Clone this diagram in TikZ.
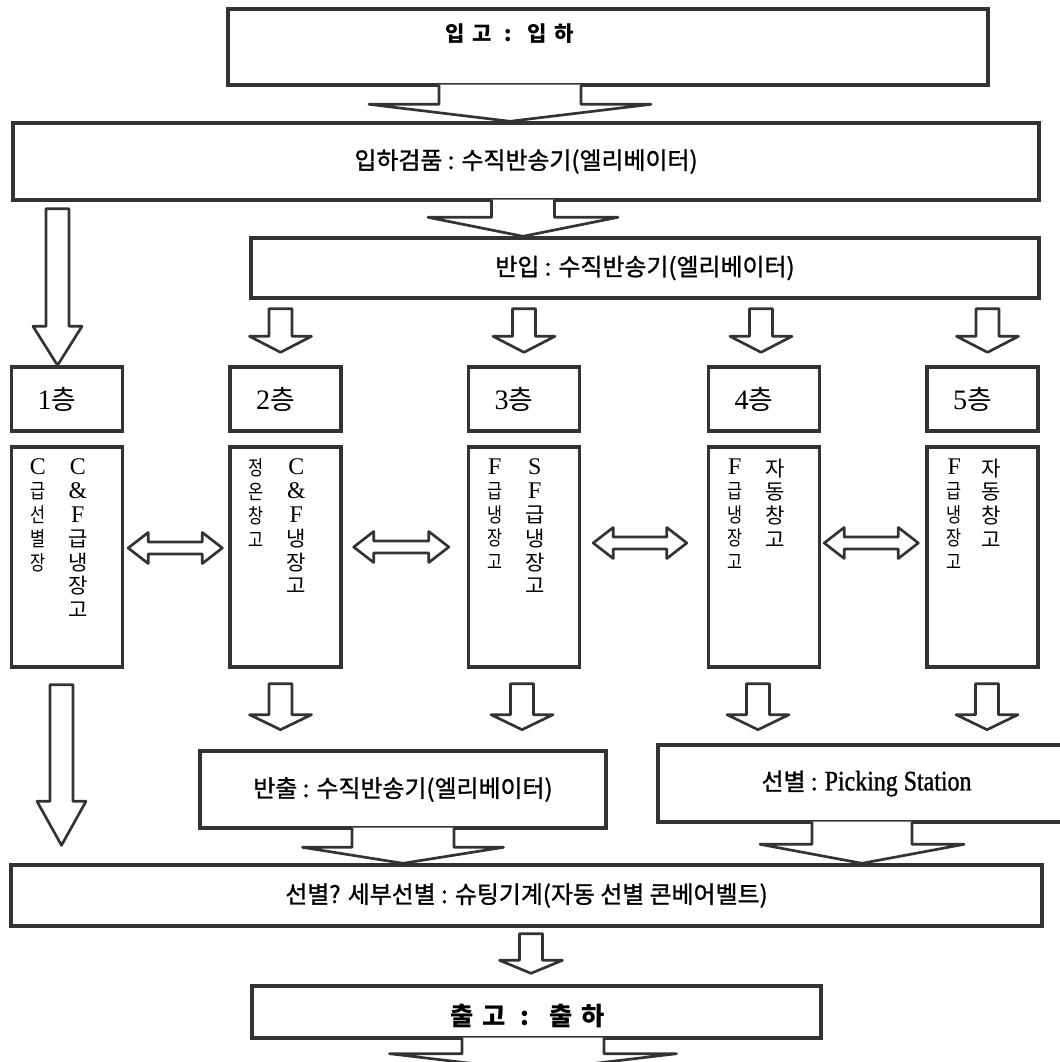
\documentclass[tikz,border=0pt]{standalone}
\usepackage{fontspec}
\setmainfont{Liberation Serif}
\newfontfamily\kr{Noto Sans CJK KR}
\newfontfamily\krc[FakeBold=1.2]{Noto Sans CJK KR}
\newfontfamily\krn[FakeStretch=0.8]{Noto Sans CJK KR}
\newfontfamily\krw[LetterSpace=35]{Noto Sans CJK KR}
\newfontfamily\serc[FakeStretch=0.85,FakeBold=1]{Liberation Serif}
\usetikzlibrary{calc}
\def\px{0.025cm}
\newcommand{\lt}[1]{{\rmfamily\fontsize{17}{17}\selectfont #1}}
% box with a wide arrow hanging from its bottom edge
\newcommand{\boxarrow}[5]{% start on edge, tip level, half shaft, half head, head length
  \filldraw[blk] ($(#1)+(-#3,-2)$) -- ($(#1 |- #2)+(-#3,-#5)$) -- ($(#1 |- #2)+(-#4,-#5)$)
    -- (#1 |- #2) -- ($(#1 |- #2)+(#4,-#5)$) -- ($(#1 |- #2)+(#3,-#5)$) -- ($(#1)+(#3,-2)$);
}
% free standing hollow arrow pointing down
\newcommand{\blockarrow}[5]{%
  \filldraw[blk] ($(#1)+(-#3,0)$) -- ($(#1 |- #2)+(-#3,-#5)$) -- ($(#1 |- #2)+(-#4,-#5)$)
    -- (#1 |- #2) -- ($(#1 |- #2)+(#4,-#5)$) -- ($(#1 |- #2)+(#3,-#5)$) -- ($(#1)+(#3,0)$) -- cycle;
}
% hollow double arrow between two tips
\newcommand{\twoarrow}[2]{%
  \filldraw[blk] (#1) -- ($(#1)+(20,-15.5)$) -- ($(#1)+(20,-6)$) -- ($(#2)+(-20,-6)$) -- ($(#2)+(-20,-15.5)$)
    -- (#2) -- ($(#2)+(-20,15.5)$) -- ($(#2)+(-20,6)$) -- ($(#1)+(20,6)$) -- ($(#1)+(20,15.5)$) -- cycle;
}
\begin{document}
\begin{tikzpicture}[x=\px, y=-\px,
    box/.style={draw=black!80, line width=2.4pt, inner sep=0pt},
    blk/.style={draw=black!80, line width=1.9pt, fill=white, line join=round},
    mid/.style={font=\krc\fontsize{17}{20}\selectfont},
    head/.style={font=\krw\bfseries\fontsize{15}{18}\selectfont},
    floor/.style={box, minimum width=111*\px, minimum height=64*\px, font=\kr\fontsize{19}{20}\selectfont},
    tall/.style={box, minimum width=111*\px, minimum height=220*\px},
    col/.style={anchor=north, inner sep=0pt, align=center, font=\kr\fontsize{15}{17}\selectfont},
    coln/.style={col, font=\krn\fontsize{14.5}{17}\selectfont}]
    \useasboundingbox (0,0) rectangle (1059,1062);
    % 1. 입고 / 입하검품 / 반입
    \node[box, minimum width=760*\px, minimum height=76*\px] (in) at (608,47) {};
    \node[head] (intxt) at ($(in.center)+(-98,-13)$) {입고 : 입하};
    \node[box, mid, minimum width=1026*\px, minimum height=77*\px] (chk) at (526,161.5) {입하검품 : 수직반송기(엘리베이터)};
    \node[box, mid, minimum width=788*\px, minimum height=60*\px] (bi) at (645,268) {반입 : 수직반송기(엘리베이터)};
    % 2. floors
    \foreach \i/\x in {1/67, 2/285.5, 3/524, 4/764, 5/982.5} {
        \node[floor] (f\i) at (\x,399) {{\rmfamily\fontsize{20}{20}\selectfont\i}층\hspace*{0.5cm}};
        \node[tall] (t\i) at (\x,557) {};
    }
    % vertical texts (right column first)
    \node[col] (c1) at ($(t1.north west)+(68,13)$) {\lt{C}\\\lt{\&}\\\lt{F}\\급\\냉\\장\\고};
    \node[coln] (d1) at ($(t1.north west)+(28,13)$) {\lt{C}\\급\\선\\별\\장};
    \node[col] (c2) at ($(t2.north west)+(68,13)$) {\lt{C}\\\lt{\&}\\\lt{F}\\냉\\장\\고};
    \node[coln] (d2) at ($(t2.north west)+(28,13)$) {정\\온\\창\\고};
    \node[col] (c3) at ($(t3.north west)+(68,13)$) {\lt{S}\\\lt{F}\\급\\냉\\장\\고};
    \node[coln] (d3) at ($(t3.north west)+(28,13)$) {\lt{F}\\급\\냉\\장\\고};
    \node[col] (c4) at ($(t4.north west)+(68,13)$) {자\\동\\창\\고};
    \node[coln] (d4) at ($(t4.north west)+(28,13)$) {\lt{F}\\급\\냉\\장\\고};
    \node[col] (c5) at ($(t5.north west)+(66,13)$) {자\\동\\창\\고};
    \node[coln] (d5) at ($(t5.north west)+(29,13)$) {\lt{F}\\급\\냉\\장\\고};
    % 3. 반출 / 선별 / 세부선별 / 출고
    \node[box, mid, minimum width=406*\px, minimum height=77*\px] (bo) at (403,789.5) {반출 : 수직반송기(엘리베이터)};
    \node[box, mid, minimum width=417*\px, minimum height=77*\px] (ps) at (866.5,783.5) {선별 : {\serc\fontsize{20}{20}\selectfont Picking Station}};
    \node[box, mid, minimum width=1031*\px, minimum height=61*\px] (so) at (526.5,895.5) {선별? 세부선별 : 슈팅기계(자동 선별 콘베어벨트)};
    \node[box, minimum width=569*\px, minimum height=52*\px] (out) at (536.5,1012) {};
    \node[head, font=\krw\bfseries\fontsize{18}{20}\selectfont] (outtxt) at ($(out.center)+(-9,4)$) {출고 : 출하};
    % 4. arrows hanging from boxes
    \coordinate (a1) at ($(in.south)+(-98,0)$);
    \boxarrow{a1}{chk.north}{71}{141}{17}
    \coordinate (a2) at ($(chk.south)+(-3,0)$);
    \boxarrow{a2}{bi.north}{31.5}{95}{19}
    \boxarrow{bo.south}{so.north}{51}{100.5}{16}
    \coordinate (a3) at ($(ps.south)+(-4.5,0)$);
    \boxarrow{a3}{so.north}{50}{102}{19}
    \coordinate (a4) at ($(out.south)+(-3.5,0)$);
    \coordinate (exit) at ($(out.south)+(0,31)$);
    \boxarrow{a4}{exit}{71}{143.5}{17}
    % 5. free arrows
    \coordinate (top) at ($(chk.south -| f1.north)+(-9.5,7)$);
    \blockarrow{top}{f1.north}{11.5}{24.5}{39}
    \foreach \f/\dx in {f2/-5, f3/0, f4/-3, f5/5} {
        \coordinate (top) at ($(bi.south -| \f.north)+(\dx,9)$);
        \coordinate (tip) at ($(\f.north)+(0,-13)$);
        \blockarrow{top}{tip}{11.5}{31}{16}
    }
    \coordinate (top) at ($(t1.south)+(-5.5,16)$);
    \coordinate (tip) at ($(so.north)+(0,-18)$);
    \blockarrow{top}{tip}{11.5}{24.5}{44}
    \foreach \t/\dx in {t2/-5, t3/-2, t4/-6, t5/4.5} {
        \coordinate (top) at ($(\t.south)+(\dx,15)$);
        \coordinate (tip) at ($(\t.south)+(0,61)$);
        \blockarrow{top}{tip}{11.5}{31}{15}
    }
    \coordinate (top) at ($(so.south)+(4.5,6)$);
    \coordinate (tip) at ($(out.north)+(0,-11)$);
    \blockarrow{top}{tip}{11.5}{31.5}{13}
    % 6. double arrows between floors
    \foreach \a/\b/\l/\r/\h in {t1/t2/4/6/9, t2/t3/11/18/10, t3/t4/12/20/14, t4/t5/3/7/14} {
        \coordinate (L) at ($(\a.east)+(\l,-\h)$);
        \coordinate (R) at ($(\b.west)+(-\r,-\h)$);
        \twoarrow{L}{R}
    }
\end{tikzpicture}
\end{document}
